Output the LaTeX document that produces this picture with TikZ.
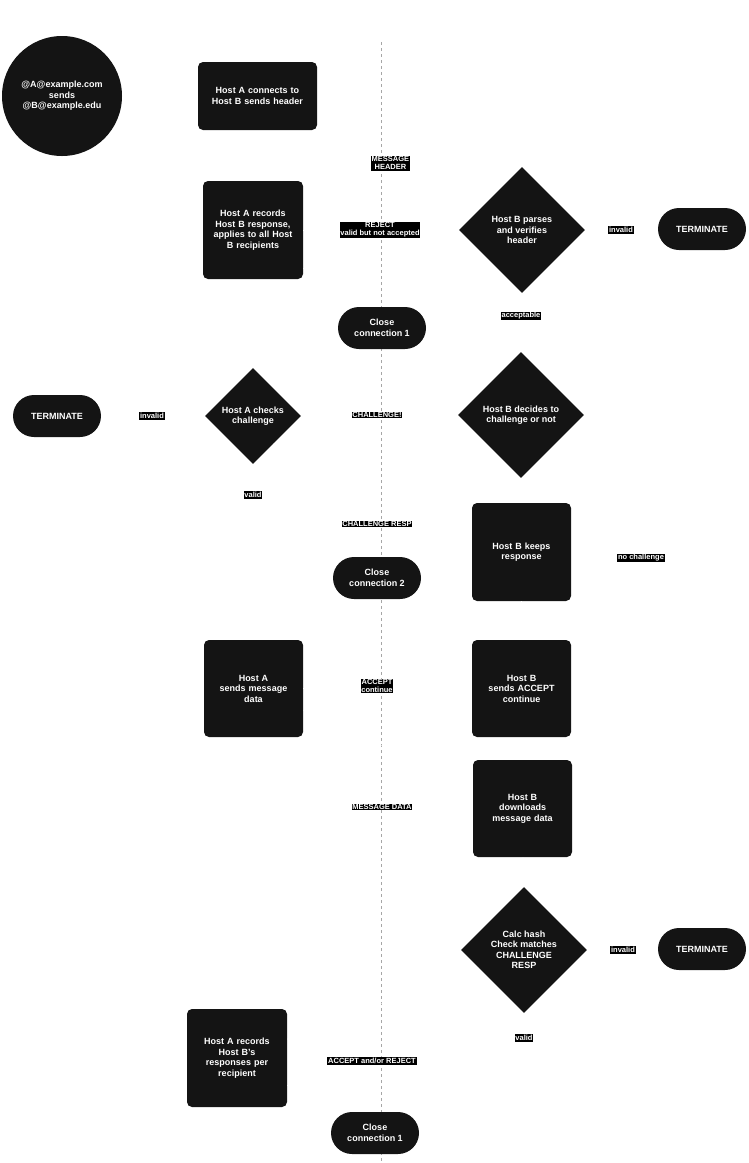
\documentclass[tikz,border=0pt]{standalone}
\usepackage{fontspec}
\setmainfont{Liberation Sans}
\usetikzlibrary{shapes.geometric}
\definecolor{nb}{HTML}{141414}
\begin{document}
\begin{tikzpicture}[x=1pt,y=-1pt,
 every node/.style={font=\fontsize{9}{10.5}\selectfont\bfseries,text=white,align=center,inner sep=1pt},
 box/.style={fill=nb,rounded corners=5pt,text width=#1},
 dia/.style={fill=nb,diamond,aspect=1,inner sep=0pt,minimum size=#1},
 stad/.style={fill=nb,rounded corners=21pt,minimum width=88pt,minimum height=42pt},
 lab/.style={fill=black,font=\fontsize{7.5}{8}\selectfont\bfseries,inner sep=0.8pt},
 con/.style={white}]
\useasboundingbox (0,0) rectangle (749,1163);
\draw[gray!70,dashed] (381,42) -- (381,1163);
\node[fill=nb,circle,minimum size=120pt] (start) at (62,96) {@A@example.com\\sends\\@B@example.edu};
\node[box=117pt,minimum height=68pt] (b1) at (257.5,96) {Host A connects to\\Host B sends header};
\node[box=98pt,minimum height=98pt] (b2) at (253,230) {Host A records\\Host B response,\\applies to all Host\\B recipients};
\node[dia=126pt] (d1) at (522,230) {Host B parses\\and verifies\\header};
\node[stad] (t1) at (702,229) {TERMINATE};
\node[stad] (c1) at (382,328) {Close\\connection 1};
\node[dia=126pt] (d2) at (521,415) {Host B decides to\\challenge or not};
\node[dia=96pt] (d3) at (253,416) {Host A checks\\challenge};
\node[stad] (t2) at (57,416) {TERMINATE};
\node[box=97pt,minimum height=98pt] (b3) at (521.5,552) {Host B keeps\\response};
\node[stad] (c2) at (377,578) {Close\\connection 2};
\node[box=97pt,minimum height=97pt] (b4) at (253.5,688.5) {Host A\\sends message\\data};
\node[box=97pt,minimum height=97pt] (b5) at (521.5,688.5) {Host B\\sends ACCEPT\\continue};
\node[box=97pt,minimum height=97pt] (b6) at (522.5,808.5) {Host B\\downloads\\message data};
\node[dia=126pt] (d4) at (524,950) {Calc hash\\Check matches\\CHALLENGE\\RESP};
\node[stad] (t3) at (702,949) {TERMINATE};
\node[box=98pt,minimum height=98pt] (b7) at (237,1058) {Host A records\\Host B's\\responses per\\recipient};
\node[stad] (c3) at (375,1133) {Close\\connection 1};
% connectors (drawn white, as in the reference)
\draw[con] (b1) -- (d1) node[lab,pos=0.45] (l1) at (380,96) {MESSAGE\\HEADER};
\draw[con] (d1) -- (b2);
\node[lab] (l2) at (380,230) {REJECT\\valid but not accepted};
\draw[con] (b2) -- (c1);
\draw[con] (d1) -- (t1);
\node[lab] (l3) at (621,230) {invalid};
\draw[con] (d1) -- (d2);
\node[lab] (l4) at (521,316) {acceptable};
\draw[con] (d2) -- (d3);
\node[lab] (l5) at (377,415) {CHALLENGE!};
\draw[con] (d3) -- (t2);
\node[lab] (l6) at (152,416) {invalid};
\draw[con] (d3) -- (c2);
\node[lab] (l7) at (253,495) {valid};
\node[lab] (l8) at (377,524) {CHALLENGE RESP};
\draw[con] (c2) -- (b3);
\draw[con] (d2) -- (b3);
\node[lab] (l9) at (641,558) {no challenge};
\draw[con] (b3) -- (b5);
\draw[con] (b5) -- (b4);
\node[lab] (l10) at (377,686) {ACCEPT\\continue};
\draw[con] (b4) -- (b6);
\node[lab] (l11) at (382,807) {MESSAGE DATA};
\draw[con] (b6) -- (d4);
\draw[con] (d4) -- (t3);
\node[lab] (l12) at (623,950) {invalid};
\draw[con] (d4) -- (b7);
\node[lab] (l13) at (524,1038) {valid};
\node[lab] (l14) at (372,1061) {ACCEPT and/or REJECT};
\draw[con] (b7) -- (c3);
\end{tikzpicture}
\end{document}
